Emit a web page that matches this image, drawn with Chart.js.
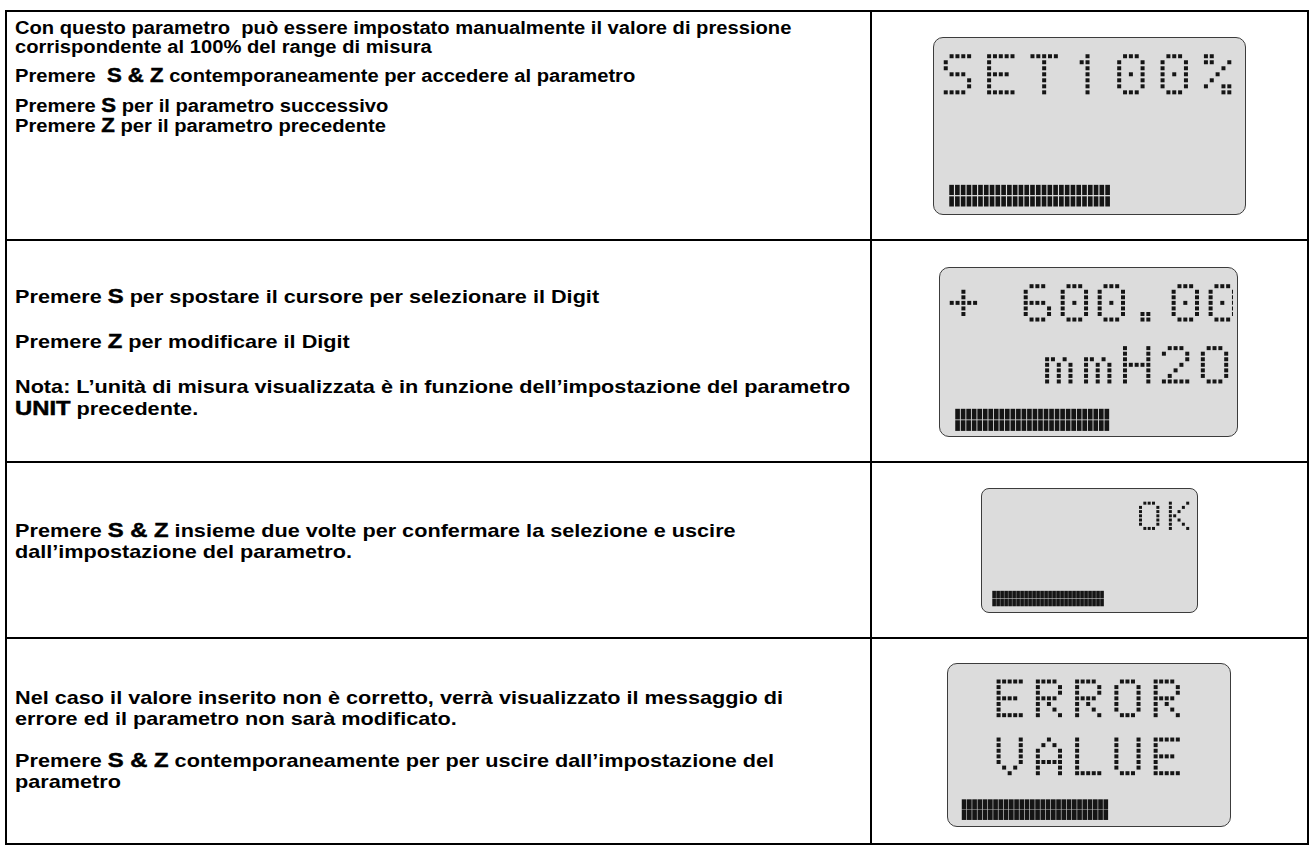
<!DOCTYPE html>
<html>
<head>
<meta charset="utf-8">
<script src="https://cdn.jsdelivr.net/npm/chart.js@4/dist/chart.umd.min.js"></script>
<style>
  html, body { margin: 0; padding: 0; background: #fff; }
  body { width: 1311px; height: 846px; position: relative; overflow: hidden;
         font-family: "Liberation Sans", Arial, sans-serif; font-weight: bold; color: #000; }
  .rule { position: absolute; background: #000; }
  .txt { position: absolute; left: 15px; white-space: nowrap; transform-origin: 0 0; }
  .r1 { font-size: 18px; line-height: 19px; transform: scaleX(1.12); }
  .r2 { font-size: 19px; line-height: 21px; transform: scaleX(1.14); }
  .k { font-size: 1.1em; -webkit-text-stroke: 0.5px #000; }
  .lcd { position: absolute; box-sizing: border-box; border: 1.6px solid #3c3c3c; background: #dcdcdc; }
  .lcd canvas { position: absolute; left: -1.6px; top: -1.6px; }
</style>
</head>
<body>

<div class="rule" style="left:5px;top:10px;width:1304px;height:2px"></div>
<div class="rule" style="left:5px;top:843px;width:1304px;height:2px"></div>
<div class="rule" style="left:5px;top:10px;width:2px;height:835px"></div>
<div class="rule" style="left:1307px;top:10px;width:2px;height:835px"></div>
<div class="rule" style="left:870px;top:10px;width:2px;height:835px"></div>
<div class="rule" style="left:5px;top:239px;width:1304px;height:2px"></div>
<div class="rule" style="left:5px;top:461px;width:1304px;height:2px"></div>
<div class="rule" style="left:5px;top:637px;width:1304px;height:2px"></div>

<div class="txt r1" style="top:18.5px">Con questo parametro &nbsp;può essere impostato manualmente il valore di pressione<br>corrispondente al 100% del range di misura</div>
<div class="txt r1" style="top:65.5px">Premere &nbsp;<span class="k">S &amp; Z</span> contemporaneamente per accedere al parametro</div>
<div class="txt r1" style="top:95.5px">Premere <span class="k">S</span> per il parametro successivo<br>Premere <span class="k">Z</span> per il parametro precedente</div>

<div class="txt r2" style="top:284.5px">Premere <span class="k">S</span> per spostare il cursore per selezionare il Digit</div>
<div class="txt r2" style="top:329.5px">Premere <span class="k">Z</span> per modificare il Digit</div>
<div class="txt r2" style="top:375.5px">Nota: L’unità di misura visualizzata è in funzione dell’impostazione del parametro<br><span class="k">UNIT</span> precedente.</div>

<div class="txt r2" style="top:518.5px">Premere <span class="k">S &amp; Z</span> insieme due volte per confermare la selezione e uscire<br>dall’impostazione del parametro.</div>

<div class="txt r2" style="top:686.5px">Nel caso il valore inserito non è corretto, verrà visualizzato il messaggio di<br>errore ed il parametro non sarà modificato.</div>
<div class="txt r2" style="top:748.5px">Premere <span class="k">S &amp; Z</span> contemporaneamente per per uscire dall’impostazione del<br>parametro</div>

<div id="lcds"></div>

<script>
// text shown on each display, line by line
const lcdTop = ['SET100%', '+ 600.00', 'OK', 'ERROR'];
const lcdBottom = ['', 'mmH2O', '', 'VALUE'];
// lit segments in each row of the bar graph
const barCells = [28, 28, 28, 28];

// 5x7 dot matrix font (row bitmasks)
const glyphs = {
  ' ': [0, 0, 0, 0, 0, 0, 0],
  'S': [0x0F, 0x10, 0x10, 0x0E, 0x01, 0x01, 0x1E],
  'E': [0x1F, 0x10, 0x10, 0x1E, 0x10, 0x10, 0x1F],
  'T': [0x1F, 0x04, 0x04, 0x04, 0x04, 0x04, 0x04],
  '1': [0x04, 0x0C, 0x04, 0x04, 0x04, 0x04, 0x04],
  '0': [0x0E, 0x11, 0x11, 0x15, 0x11, 0x11, 0x0E],
  '%': [0x18, 0x19, 0x02, 0x04, 0x08, 0x13, 0x03],
  '+': [0x00, 0x04, 0x04, 0x1F, 0x04, 0x04, 0x00],
  '6': [0x0E, 0x10, 0x10, 0x1E, 0x11, 0x11, 0x0E],
  '.': [0, 0, 0, 0, 0, 0x0C, 0x0C],
  'm': [0, 0, 0x1A, 0x15, 0x15, 0x15, 0x15],
  'H': [0x11, 0x11, 0x11, 0x1F, 0x11, 0x11, 0x11],
  '2': [0x0E, 0x11, 0x01, 0x02, 0x04, 0x08, 0x1F],
  'O': [0x0E, 0x11, 0x11, 0x11, 0x11, 0x11, 0x0E],
  'K': [0x11, 0x12, 0x14, 0x18, 0x14, 0x12, 0x11],
  'R': [0x1E, 0x11, 0x11, 0x1E, 0x14, 0x12, 0x11],
  'V': [0x11, 0x11, 0x11, 0x11, 0x11, 0x0A, 0x04],
  'A': [0x04, 0x0A, 0x11, 0x11, 0x1F, 0x11, 0x11],
  'L': [0x10, 0x10, 0x10, 0x10, 0x10, 0x10, 0x1F],
  'U': [0x11, 0x11, 0x11, 0x11, 0x11, 0x11, 0x0E]
};

// page layout of each display (px)
const panels = [
  { box: [933, 37, 313, 178], radius: 10, dot: 4, px: 6, py: 6.3, lines: [[941, 52, 44.5], null],
    bar: { x: 947, y: 189, pitch: 5.93, w: 4, h: 10, gap: 2 } },
  { box: [939, 267, 299, 170], radius: 10, dot: 4, px: 6, py: 5.83, lines: [[947, 282, 38], [1045, 347, 40]],
    bar: { x: 953, y: 413, pitch: 5.68, w: 4, h: 10.5, gap: 1.5 } },
  { box: [981, 488, 217, 125], radius: 8, dot: 3, px: 4.5, py: 4.5, lines: [[1142, 499.5, 31], null],
    bar: { x: 990, y: 595, pitch: 4.15, w: 3, h: 7.3, gap: 1.2 } },
  { box: [947, 663, 284, 164], radius: 10, dot: 4, px: 5.7, py: 5.9, lines: [[995, 677.3, 40.4], [995, 738.3, 40.4]],
    bar: { x: 959.5, y: 803.5, pitch: 5.4, w: 4, h: 10, gap: 1 } }
];

const ink = '#151515';

function glyphDots(text, spot, p, ox, oy) {
  const pts = [];
  if (!text || !spot) return pts;
  const [x0, y0, adv] = spot;
  [...text].forEach((ch, i) => {
    (glyphs[ch] || glyphs[' ']).forEach((bits, r) => {
      for (let c = 0; c < 5; c++) {
        if (bits & (16 >> c)) {
          pts.push({ x: x0 - ox + i * adv + c * p.px + p.dot / 2, y: y0 - oy + r * p.py + p.dot / 2 });
        }
      }
    });
  });
  return pts;
}

const host = document.getElementById('lcds');

panels.forEach((p, i) => {
  const [bx, by, bw, bh] = p.box;
  const div = document.createElement('div');
  div.className = 'lcd';
  div.style.cssText = `left:${bx}px;top:${by}px;width:${bw}px;height:${bh}px;border-radius:${p.radius}px`;
  const canvas = document.createElement('canvas');
  canvas.width = bw;
  canvas.height = bh;
  div.appendChild(canvas);
  host.appendChild(div);

  const dots = glyphDots(lcdTop[i], p.lines[0], p, bx, by)
    .concat(glyphDots(lcdBottom[i], p.lines[1], p, bx, by));

  const b = p.bar;
  const cells = Array.from({ length: barCells[i] }, (_, k) => b.x - bx + b.w / 2 + k * b.pitch);
  const topRow = cells.map(x => ({ x, y: [b.y - by, b.y - by + b.h] }));
  const lowRow = cells.map(x => ({ x, y: [b.y - by + b.h + b.gap, b.y - by + 2 * b.h + b.gap] }));

  const barSet = data => ({
    type: 'bar', data, barThickness: b.w, grouped: false,
    backgroundColor: ink, borderWidth: 0
  });

  new Chart(canvas, {
    type: 'scatter',
    data: {
      datasets: [
        { type: 'scatter', data: dots, pointStyle: 'rect', pointRadius: p.dot * Math.SQRT1_2,
          pointBackgroundColor: ink, pointBorderWidth: 0 },
        barSet(topRow),
        barSet(lowRow)
      ]
    },
    options: {
      responsive: false,
      animation: false,
      events: [],
      layout: { padding: 0 },
      plugins: { legend: { display: false }, tooltip: { enabled: false } },
      scales: {
        x: { type: 'linear', min: 0, max: bw, display: false, offset: false },
        y: { type: 'linear', min: 0, max: bh, reverse: true, display: false }
      }
    }
  });
});
</script>
</body>
</html>
